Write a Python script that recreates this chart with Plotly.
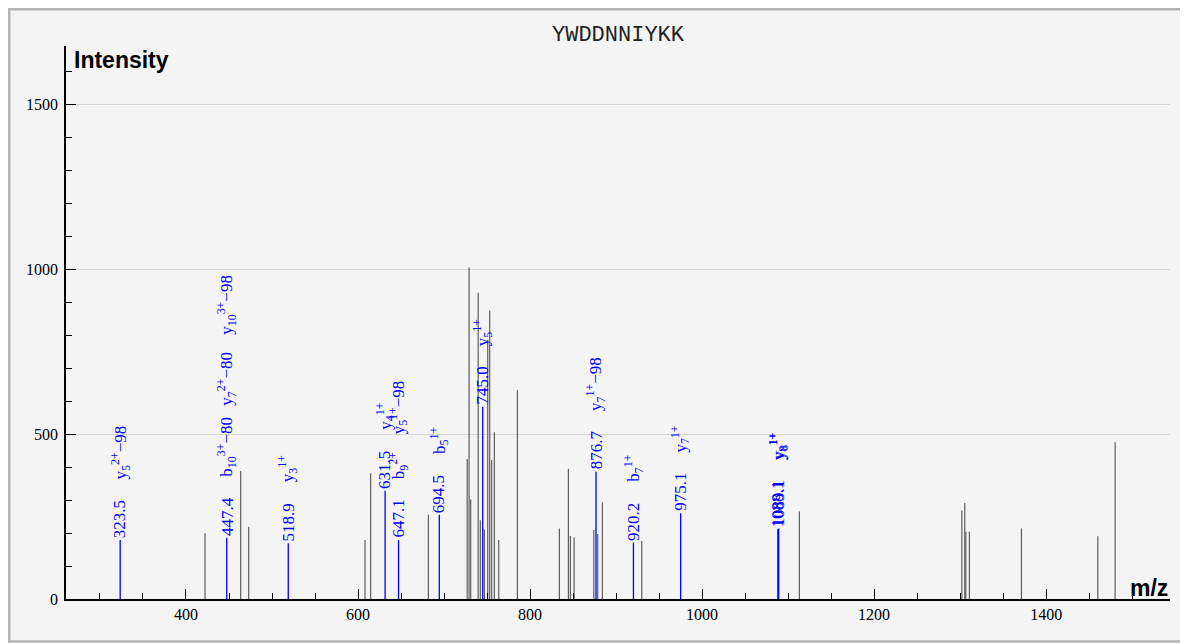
import re
import plotly.graph_objects as go

# ---- data ----
title_text = "YWDDNNIYKK"

# unmatched (gray) peaks
gray_mz = [422.1, 463.6, 472.9, 608.1, 614.7, 681.8, 726.9, 729.1, 731.0, 739.7,
           742.2, 746.9, 750.8, 753.1, 755.4, 758.5, 763.6, 785.3, 834.1, 844.6,
           846.9, 851.2, 874.1, 878.7, 884.1, 929.9, 1113.1, 1302.0, 1305.4, 1306.6,
           1310.8, 1371.3, 1460.1, 1480.2]
gray_int = [199, 388, 219, 179, 381, 255, 424, 1005, 302, 928,
            239, 211, 785, 874, 421, 505, 179, 633, 214, 394,
            191, 187, 209, 197, 293, 176, 265, 268, 291, 204,
            204, 214, 190, 475]

# matched (blue) peaks
blue_mz = [323.5, 447.4, 518.9, 631.5, 647.1, 694.5, 745.0, 876.7, 920.2, 975.1, 1088.1, 1089.1]
blue_int = [179, 186, 169, 328, 179, 255, 583, 386, 171, 260, 212, 214]
blue_labels = [
    ["y<sub>5</sub><sup>2+</sup>\u221298"],
    ["b<sub>10</sub><sup>3+</sup>\u221280", "y<sub>7</sub><sup>2+</sup>\u221280", "y<sub>10</sub><sup>3+</sup>\u221298"],
    ["y<sub>3</sub><sup>1+</sup>"],
    ["y<sub>4</sub><sup>1+</sup>"],
    ["b<sub>9</sub><sup>2+</sup>", "y<sub>5</sub><sup>1+</sup>\u221298"],
    ["b<sub>5</sub><sup>1+</sup>"],
    ["y<sub>5</sub><sup>1+</sup>"],
    ["y<sub>7</sub><sup>1+</sup>\u221298"],
    ["b<sub>7</sub><sup>1+</sup>"],
    ["y<sub>7</sub><sup>1+</sup>"],
    ["y<sub>8</sub><sup>1+</sup>"],
    ["y<sub>8</sub><sup>1+</sup>"],
]

x_range = [260.5, 1544]
y_range = [0, 1676]

# ---- helpers ----
LABEL_SIZE = 17
CHAR_EM = {".": 0.25, "+": 0.564, "\u2212": 0.564}


def plain_w(s):
    return sum(CHAR_EM.get(c, 0.5) for c in s) * LABEL_SIZE


def label_w(s):
    """estimated length of a label drawn with stacked sub/superscripts"""
    m = re.match(r"^(.*?)<sub>(.*?)</sub><sup>(.*?)</sup>(.*)$", s)
    if not m:
        return plain_w(s)
    base, sub, sup, tail = m.groups()
    return plain_w(base) + 0.85 * max(plain_w(sub), plain_w(sup)) + plain_w(tail)


def sticks(xs, ys):
    px, py = [], []
    for x, y in zip(xs, ys):
        px += [x, x, None]
        py += [0, y, None]
    return px, py


fig = go.Figure()
gx, gy = sticks(gray_mz, gray_int)
fig.add_trace(go.Scatter(x=gx, y=gy, mode="lines", line=dict(color="#5e5e5e", width=1.2),
                         hoverinfo="skip", showlegend=False))
bx, by = sticks(blue_mz, blue_int)
fig.add_trace(go.Scatter(x=bx, y=by, mode="lines", line=dict(color="#0000ff", width=1.3),
                         hoverinfo="skip", showlegend=False))

GAP = 20.5
BASE_SHIFT = 2
label_font = dict(family="Liberation Serif", size=LABEL_SIZE, color="#0000ff")
annotations = []
for mz, inten, labs in zip(blue_mz, blue_int, blue_labels):
    num = f"{mz:.1f}"
    annotations.append(dict(
        x=mz, y=inten, xref="x", yref="y", text=num, showarrow=False,
        textangle=-90, xanchor="center", yanchor="bottom", yshift=BASE_SHIFT,
        font=label_font, borderpad=0, borderwidth=0,
    ))
    offset = BASE_SHIFT + plain_w(num) + GAP
    for lab in labs:
        annotations.append(dict(
            x=mz, y=inten, xref="x", yref="y", text=lab, showarrow=False,
            textangle=-90, xanchor="center", yanchor="bottom", yshift=offset,
            font=label_font, borderpad=0, borderwidth=0,
        ))
        offset += label_w(lab) + GAP

annotations.append(dict(
    x=0.0054, y=0.9747, xref="paper", yref="paper", text="<b>Intensity</b>",
    showarrow=False, xanchor="left", yanchor="middle",
    font=dict(family="Liberation Sans", size=23, color="black"),
))
annotations.append(dict(
    x=1.0, y=0.0199, xref="paper", yref="paper", text="<b>m/z</b>",
    showarrow=False, xanchor="right", yanchor="middle",
    font=dict(family="Liberation Sans", size=23, color="black"),
))

# page has an 8px body margin; figure sized to fill the rest of the window
W, H = 1180, 635
L, R, T, B = 58, 18, 38, 44
pw, ph = W - L - R, H - T - B


def fx(px):
    return (px - L) / pw


def fy(py):
    return (H - B - py) / ph


fig.update_layout(
    width=W, height=H,
    margin=dict(l=L, r=R, t=T, b=B, pad=0),
    paper_bgcolor="white",
    plot_bgcolor="rgba(0,0,0,0)",
    title=dict(text=title_text, x=0.5, xref="paper", y=1 - 25 / H, yref="container",
               xanchor="center", yanchor="middle",
               font=dict(family="Liberation Mono", size=22, color="#222222")),
    annotations=annotations,
    shapes=[dict(type="rect", xref="paper", yref="paper", layer="below",
                 x0=fx(1.2), x1=fx(1178),
                 y0=fy(633.5), y1=fy(1.2),
                 fillcolor="#f4f4f4", line=dict(color="#b4b4b4", width=2.5))],
    xaxis=dict(range=x_range, showgrid=False, zeroline=False,
               showline=True, linecolor="black", linewidth=2,
               ticks="inside", ticklen=10, tickcolor="black", tickwidth=1,
               tick0=0, dtick=200,
               minor=dict(dtick=50, tick0=0, ticks="inside", ticklen=6,
                          tickcolor="black", showgrid=False),
               tickfont=dict(family="Liberation Serif", size=16, color="black")),
    yaxis=dict(range=y_range, showgrid=True, gridcolor="#d6d6d6", gridwidth=1,
               zeroline=False, showline=True, linecolor="black", linewidth=1.5,
               ticks="inside", ticklen=10, tickcolor="black", tickwidth=1,
               tick0=0, dtick=500, ticklabelstandoff=3,
               minor=dict(dtick=100, tick0=0, ticks="inside", ticklen=6,
                          tickcolor="black", showgrid=False),
               tickfont=dict(family="Liberation Serif", size=16, color="black")),
)

fig.write_html("out.html")
